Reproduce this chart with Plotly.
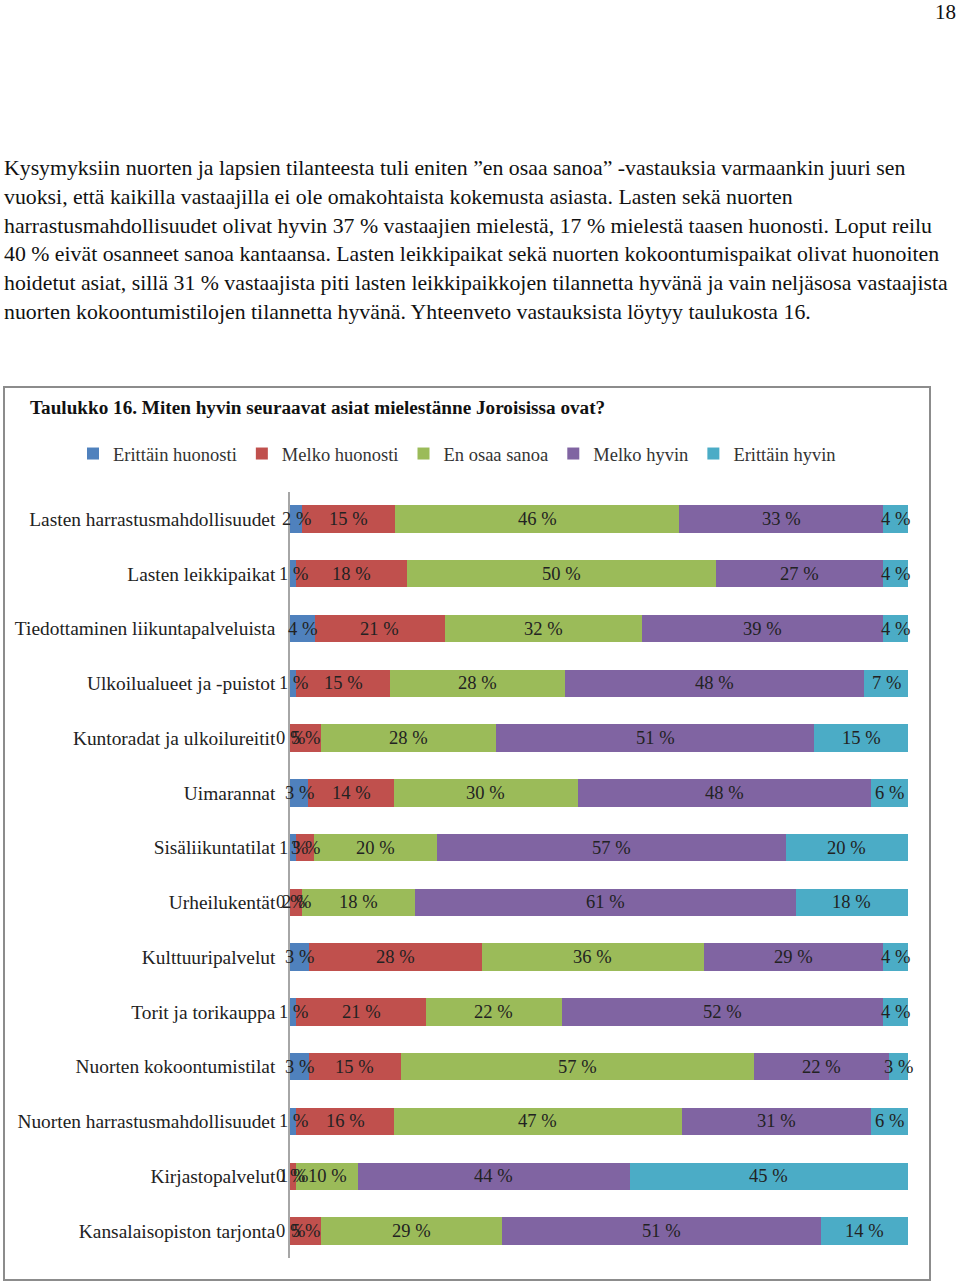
import plotly.graph_objects as go

W, H = 960, 1284

categories = [
    "Lasten harrastusmahdollisuudet",
    "Lasten leikkipaikat",
    "Tiedottaminen liikuntapalveluista",
    "Ulkoilualueet ja -puistot",
    "Kuntoradat ja ulkoilureitit",
    "Uimarannat",
    "Sisäliikuntatilat",
    "Urheilukentät",
    "Kulttuuripalvelut",
    "Torit ja torikauppa",
    "Nuorten kokoontumistilat",
    "Nuorten harrastusmahdollisuudet",
    "Kirjastopalvelut",
    "Kansalaisopiston tarjonta",
]
series_names = ["Erittäin huonosti", "Melko huonosti", "En osaa sanoa", "Melko hyvin", "Erittäin hyvin"]
erittain_huonosti = [2, 1, 4, 1, 0, 3, 1, 0, 3, 1, 3, 1, 0, 0]
melko_huonosti = [15, 18, 21, 15, 5, 14, 3, 2, 28, 21, 15, 16, 1, 5]
en_osaa_sanoa = [46, 50, 32, 28, 28, 30, 20, 18, 36, 22, 57, 47, 10, 29]
melko_hyvin = [33, 27, 39, 48, 51, 48, 57, 61, 29, 52, 22, 31, 44, 51]
erittain_hyvin = [4, 4, 4, 7, 15, 6, 20, 18, 4, 4, 3, 6, 45, 14]
series_values = [erittain_huonosti, melko_huonosti, en_osaa_sanoa, melko_hyvin, erittain_hyvin]
colors = ["#4F81BD", "#C0504D", "#9BBB59", "#8064A2", "#4BACC6"]

chart_title = "Taulukko 16. Miten hyvin seuraavat asiat mielestänne Joroisissa ovat?"
page_number = "18"
paragraph_lines = [
    "Kysymyksiin nuorten ja lapsien tilanteesta tuli eniten \u201den osaa sanoa\u201d -vastauksia varmaankin juuri sen",
    "vuoksi, että kaikilla vastaajilla ei ole omakohtaista kokemusta asiasta. Lasten sekä nuorten",
    "harrastusmahdollisuudet olivat hyvin 37 % vastaajien mielestä, 17 % mielestä taasen huonosti. Loput reilu",
    "40 % eivät osanneet sanoa kantaansa. Lasten leikkipaikat sekä nuorten kokoontumispaikat olivat huonoiten",
    "hoidetut asiat, sillä 31 % vastaajista piti lasten leikkipaikkojen tilannetta hyvänä ja vain neljäsosa vastaajista",
    "nuorten kokoontumistilojen tilannetta hyvänä. Yhteenveto vastauksista löytyy taulukosta 16.",
]

FONT = "Liberation Serif, Times New Roman, serif"

def px(x):
    return x / W

def py(y):
    return 1 - y / H

fig = go.Figure()
for name, vals, col in zip(series_names, series_values, colors):
    fig.add_trace(go.Bar(
        y=categories, x=vals, name=name, orientation="h",
        marker=dict(color=col, line=dict(width=0)),
        hoverinfo="name+x+y",
    ))

# data labels centred in each (normalised) segment
annotations = []
for i, cat in enumerate(categories):
    row = [s[i] for s in series_values]
    tot = sum(row)
    cum = 0.0
    for v in row:
        w = v / tot * 100
        annotations.append(dict(
            x=cum + w / 2, y=cat, xref="x", yref="y", text=f"{v} %",
            showarrow=False, font=dict(family=FONT, size=18.5, color="#222222"),
            xanchor="center", yanchor="middle",
        ))
        cum += w

# page text
annotations.append(dict(x=px(958), y=py(12), xref="paper", yref="paper", text=page_number,
                        showarrow=False, xanchor="right", yanchor="middle",
                        font=dict(family=FONT, size=21, color="#111111")))
for k, line in enumerate(paragraph_lines):
    annotations.append(dict(x=px(2), y=py(168 + k * 28.8), xref="paper", yref="paper", text=line,
                            showarrow=False, xanchor="left", yanchor="middle",
                            font=dict(family=FONT, size=21.8, color="#111111")))
annotations.append(dict(x=px(28), y=py(407), xref="paper", yref="paper", text=f"<b>{chart_title}</b>",
                        showarrow=False, xanchor="left", yanchor="middle",
                        font=dict(family=FONT, size=19.2, color="#111111")))

top_px, bot_px = 491.6, 1258.4
fig.update_layout(
    width=W, height=H,
    margin=dict(l=0, r=0, t=0, b=0),
    paper_bgcolor="white", plot_bgcolor="white",
    barmode="stack", barnorm="percent", bargap=0.5,
    font=dict(family=FONT, size=18, color="#222222"),
    xaxis=dict(domain=[px(290), px(908)], range=[0, 100], visible=False, fixedrange=True),
    yaxis=dict(domain=[py(bot_px), py(top_px)], autorange="reversed", showline=True,
               linecolor="#A6A6A6", linewidth=1.5, ticks="", ticklabelstandoff=9,
               tickfont=dict(family=FONT, size=19.4, color="#222222"), showgrid=False),
    legend=dict(orientation="h", x=px(73), y=py(454), xanchor="left", yanchor="middle",
                font=dict(family=FONT, size=18.5, color="#333333"), traceorder="normal",
                itemwidth=30, bgcolor="rgba(0,0,0,0)"),
    annotations=annotations,
    shapes=[dict(type="rect", xref="paper", yref="paper", x0=px(4), x1=px(930),
                 y0=py(1280), y1=py(387), line=dict(color="#8C8C8C", width=2),
                 fillcolor="rgba(0,0,0,0)", layer="below")],
)

fig.write_html("out.html", config={"displayModeBar": False},
               post_script="document.body.style.margin='0';document.body.style.overflow='hidden';")
